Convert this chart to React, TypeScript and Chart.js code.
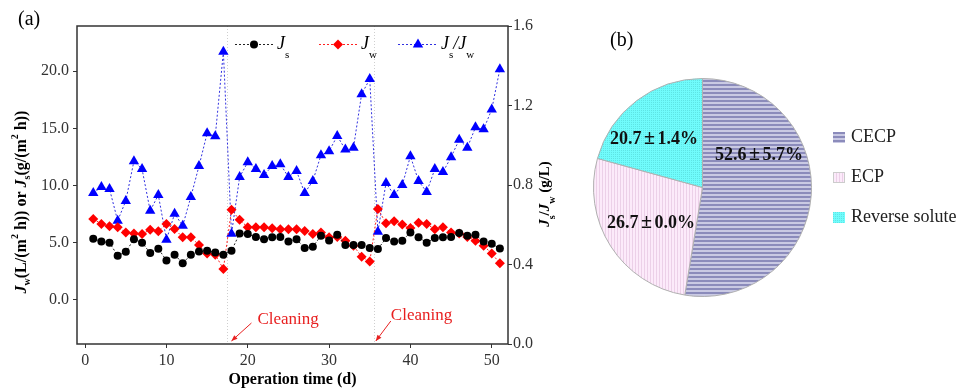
import React, { useEffect, useRef } from 'react';
import { Chart, registerables } from 'chart.js';
Chart.register(...registerables);

// ---------- data ----------
const days = [1,2,3,4,5,6,7,8,9,10,11,12,13,14,15,16,17,18,19,20,21,22,23,24,25,26,27,28,29,30,31,32,33,34,35,36,37,38,39,40,41,42,43,44,45,46,47,48,49,50,51];
const jsFlux = [5.35,5.1,5.0,3.86,4.2,5.3,5.0,4.1,4.47,3.45,3.95,3.2,3.95,4.24,4.3,4.15,3.95,4.3,5.8,5.75,5.5,5.3,5.47,5.5,5.1,5.3,4.53,4.65,5.6,5.2,5.7,4.8,4.8,4.8,4.53,4.44,5.4,5.1,5.17,5.9,5.47,5.0,5.4,5.47,5.5,5.85,5.6,5.7,5.1,4.9,4.5];
const jwFlux = [7.08,6.64,6.43,6.35,5.9,5.8,5.75,6.14,6.0,6.64,6.2,5.47,5.47,4.8,4.06,3.95,2.7,7.87,7.0,6.35,6.35,6.35,6.26,6.17,6.17,6.17,6.03,5.75,5.9,5.47,5.5,5.17,4.74,3.77,3.36,7.95,6.7,6.87,6.58,6.29,6.75,6.64,6.17,6.35,5.9,5.8,5.5,5.17,4.74,4.06,3.2];
const ratio = [0.76,0.79,0.78,0.62,0.72,0.92,0.88,0.67,0.75,0.525,0.655,0.595,0.74,0.895,1.06,1.045,1.47,0.555,0.84,0.915,0.88,0.85,0.895,0.905,0.84,0.87,0.76,0.82,0.95,0.97,1.047,0.978,0.988,1.257,1.333,0.565,0.81,0.75,0.8,0.945,0.82,0.765,0.88,0.865,0.94,1.028,0.988,1.09,1.08,1.18,1.383];
const leftTicks = [0, 5, 10, 15, 20];
const rightTicks = [0, 0.4, 0.8, 1.2, 1.6];
const xTicks = [0, 10, 20, 30, 40, 50];
const cleaningDays = [17.5, 35.5];
const cleaningLabel = 'Cleaning';

const pieLabels = ['CECP', 'ECP', 'Reverse solute'];
const pieValues = [52.6, 26.7, 20.7];
const pieTexts = ['52.6±5.7%', '26.7±0.0%', '20.7±1.4%'];

// ---------- helpers ----------
const SERIF = '"Liberation Serif", "Times New Roman", serif';
type Seg = { t: string; f: string; dy?: number };

function drawRich(ctx: CanvasRenderingContext2D, segs: Seg[], x: number, y: number, align: 'center' | 'left') {
  let total = 0;
  for (const s of segs) { ctx.font = s.f; total += ctx.measureText(s.t).width; }
  let cx = align === 'center' ? x - total / 2 : x;
  ctx.textAlign = 'left';
  ctx.textBaseline = 'middle';
  for (const s of segs) {
    ctx.font = s.f;
    ctx.fillText(s.t, cx, y + (s.dy || 0));
    cx += ctx.measureText(s.t).width;
  }
}

// draws "a±b" with a wide (full-width style) ± sign, centered on x
function drawPlusMinus(ctx: CanvasRenderingContext2D, text: string, x: number, y: number) {
  const [a, b] = text.split('±');
  ctx.font = `bold 18px ${SERIF}`;
  const wa = ctx.measureText(a).width;
  const wb = ctx.measureText(b).width;
  const slot = 16;
  const left = x - (wa + slot + wb) / 2;
  ctx.textBaseline = 'middle';
  ctx.textAlign = 'left';
  ctx.fillText(a, left, y);
  ctx.textAlign = 'center';
  ctx.font = `bold 20px ${SERIF}`;
  ctx.fillText('±', left + wa + slot / 2, y);
  ctx.font = `bold 18px ${SERIF}`;
  ctx.textAlign = 'left';
  ctx.fillText(b, left + wa + slot, y);
}

function makePattern(kind: 'h' | 'v' | 'd'): CanvasPattern | string {
  const c = document.createElement('canvas');
  const g = c.getContext('2d');
  if (!g) return '#aaa';
  if (kind === 'h') {
    c.width = 4; c.height = 4;
    g.fillStyle = '#c9c9e3'; g.fillRect(0, 0, 4, 4);
    g.fillStyle = '#8b8bbb'; g.fillRect(0, 0, 4, 2);
  } else if (kind === 'v') {
    c.width = 3; c.height = 3;
    g.fillStyle = '#fceafa'; g.fillRect(0, 0, 3, 3);
    g.fillStyle = '#ecd0e8'; g.fillRect(0, 0, 1, 3);
  } else {
    c.width = 2; c.height = 2;
    g.fillStyle = '#70fcfc'; g.fillRect(0, 0, 2, 2);
    g.fillStyle = '#5ee4e4'; g.fillRect(0, 0, 1, 1);
  }
  return g.createPattern(c, 'repeat') || '#aaa';
}

function drawMarker(ctx: CanvasRenderingContext2D, kind: string, x: number, y: number, r: number, color: string) {
  ctx.fillStyle = color;
  ctx.beginPath();
  if (kind === 'circle') {
    ctx.arc(x, y, r, 0, Math.PI * 2);
  } else if (kind === 'rectRot') {
    ctx.moveTo(x, y - r); ctx.lineTo(x + r, y); ctx.lineTo(x, y + r); ctx.lineTo(x - r, y); ctx.closePath();
  } else {
    let a = 0;
    ctx.moveTo(x + Math.sin(a) * r, y - Math.cos(a) * r);
    a += (2 * Math.PI) / 3;
    ctx.lineTo(x + Math.sin(a) * r, y - Math.cos(a) * r);
    a += (2 * Math.PI) / 3;
    ctx.lineTo(x + Math.sin(a) * r, y - Math.cos(a) * r);
    ctx.closePath();
  }
  ctx.fill();
}

const COLORS = { js: '#000000', jw: '#ff0000', ratio: '#0000ff' };

export default function App() {
  const lineRef = useRef<HTMLCanvasElement>(null);
  const pieRef = useRef<HTMLCanvasElement>(null);

  useEffect(() => {
    const pts = (arr: number[]) => days.map((d, i) => ({ x: d, y: arr[i] }));

    const lineDeco = {
      id: 'lineDeco',
      beforeDatasetsDraw(chart: any) {
        const { ctx, chartArea: a, scales } = chart;
        ctx.save();
        ctx.strokeStyle = '#cfcfcf';
        ctx.lineWidth = 1;
        ctx.setLineDash([1, 2]);
        for (const d of cleaningDays) {
          const x = Math.round(scales.x.getPixelForValue(d)) + 0.5;
          ctx.beginPath(); ctx.moveTo(x, a.top); ctx.lineTo(x, a.bottom); ctx.stroke();
        }
        ctx.restore();
      },
      afterDraw(chart: any) {
        const { ctx, chartArea: a, scales } = chart;
        ctx.save();
        // frame
        ctx.strokeStyle = '#333';
        ctx.lineWidth = 1.5;
        ctx.strokeRect(a.left, a.top, a.right - a.left, a.bottom - a.top);

        ctx.fillStyle = '#000';
        // (a)
        ctx.font = `20px ${SERIF}`;
        ctx.textAlign = 'left'; ctx.textBaseline = 'middle';
        ctx.fillText('(a)', 18, 20);

        // left axis title
        const B = `bold 16px ${SERIF}`, BI = `italic bold 16px ${SERIF}`, SB = `bold 10px ${SERIF}`;
        ctx.save();
        ctx.translate(21.5, (a.top + a.bottom) / 2 + 17);
        ctx.rotate(-Math.PI / 2);
        drawRich(ctx, [
          { t: 'J', f: BI }, { t: 'w', f: SB, dy: 6 }, { t: '(L/(m', f: B }, { t: '2', f: SB, dy: -6 },
          { t: ' h)) or ', f: B }, { t: 'J', f: BI }, { t: 's', f: SB, dy: 6 }, { t: '(g/(m', f: B },
          { t: '2', f: SB, dy: -6 }, { t: ' h))', f: B },
        ], 0, 0, 'center');
        ctx.restore();

        // right axis title
        const B2 = `bold 15px ${SERIF}`, BI2 = `italic bold 15px ${SERIF}`, SB2 = `bold 10px ${SERIF}`;
        ctx.save();
        ctx.translate(545, (a.top + a.bottom) / 2 + 9);
        ctx.rotate(-Math.PI / 2);
        drawRich(ctx, [
          { t: 'J', f: BI2 }, { t: 's', f: SB2, dy: 7 }, { t: '/', f: B2 }, { t: 'J', f: BI2 },
          { t: 'w', f: SB2, dy: 7 }, { t: ' (g/L)', f: B2 },
        ], 0, 0, 'center');
        ctx.restore();

        // bottom title
        ctx.font = `bold 16px ${SERIF}`;
        ctx.textAlign = 'center'; ctx.textBaseline = 'middle';
        ctx.fillText('Operation time (d)', (a.left + a.right) / 2, 380);

        // legend
        const legendItems = [
          { x0: 235, x1: 273, m: 254, tx: 277, kind: 'circle', r: 4, color: COLORS.js, line: '#222',
            segs: [{ t: 'J', f: `italic 18px ${SERIF}` }, { t: 's', f: `11px ${SERIF}`, dy: 11 }] },
          { x0: 319, x1: 357, m: 338, tx: 361, kind: 'rectRot', r: 5, color: COLORS.jw, line: '#ff2020',
            segs: [{ t: 'J', f: `italic 18px ${SERIF}` }, { t: 'w', f: `11px ${SERIF}`, dy: 11 }] },
          { x0: 398, x1: 437, m: 418, tx: 441, kind: 'triangle', r: 6, color: COLORS.ratio, line: '#3030e0',
            segs: [{ t: 'J', f: `italic 18px ${SERIF}` }, { t: 's', f: `11px ${SERIF}`, dy: 11 },
              { t: '/', f: `italic 18px ${SERIF}` }, { t: 'J', f: `italic 18px ${SERIF}` },
              { t: 'w', f: `11px ${SERIF}`, dy: 11 }] },
        ];
        const ly = 44.5;
        for (const it of legendItems) {
          ctx.save();
          ctx.strokeStyle = it.line; ctx.lineWidth = 1; ctx.setLineDash([2, 2]);
          ctx.beginPath(); ctx.moveTo(it.x0, ly); ctx.lineTo(it.x1, ly); ctx.stroke();
          ctx.restore();
          drawMarker(ctx, it.kind, it.m, ly, it.r, it.color);
          ctx.fillStyle = '#000';
          drawRich(ctx, it.segs, it.tx, ly, 'left');
        }

        // cleaning annotations
        const ann = [{ day: cleaningDays[0], textDx: 30, textY: 320, tipDx: 4, tailDx: 20, tailDy: 18 },
                     { day: cleaningDays[1], textDx: 17, textY: 316, tipDx: 2, tailDx: 15, tailDy: 20 }];
        for (const an of ann) {
          const xd = scales.x.getPixelForValue(an.day);
          const tipX = xd + an.tipDx, tipY = a.bottom - 3;
          const tailX = tipX + an.tailDx, tailY = tipY - an.tailDy;
          ctx.strokeStyle = '#e82020'; ctx.fillStyle = '#e82020'; ctx.lineWidth = 1;
          ctx.beginPath(); ctx.moveTo(tailX, tailY); ctx.lineTo(tipX, tipY); ctx.stroke();
          const ang = Math.atan2(tipY - tailY, tipX - tailX);
          const hl = 6, hw = 2.5;
          ctx.beginPath();
          ctx.moveTo(tipX, tipY);
          ctx.lineTo(tipX - hl * Math.cos(ang) + hw * Math.sin(ang), tipY - hl * Math.sin(ang) - hw * Math.cos(ang));
          ctx.lineTo(tipX - hl * Math.cos(ang) - hw * Math.sin(ang), tipY - hl * Math.sin(ang) + hw * Math.cos(ang));
          ctx.closePath(); ctx.fill();
          ctx.font = `17px ${SERIF}`;
          ctx.textAlign = 'left'; ctx.textBaseline = 'middle';
          ctx.fillText(cleaningLabel, xd + an.textDx, an.textY);
        }
        ctx.restore();
      },
    };

    const tickFont = { family: SERIF, size: 16 };
    const lc = new Chart(lineRef.current as HTMLCanvasElement, {
      type: 'line',
      data: {
        datasets: [
          { label: 'Js', data: pts(jsFlux), yAxisID: 'y', borderColor: '#222', backgroundColor: COLORS.js,
            borderWidth: 1, borderDash: [2, 2], pointStyle: 'circle', pointRadius: 4, pointBorderWidth: 0,
            pointBackgroundColor: COLORS.js, tension: 0 },
          { label: 'Jw', data: pts(jwFlux), yAxisID: 'y', borderColor: '#ff2020', backgroundColor: COLORS.jw,
            borderWidth: 1, borderDash: [2, 2], pointStyle: 'rectRot', pointRadius: 5, pointBorderWidth: 0,
            pointBackgroundColor: COLORS.jw, tension: 0 },
          { label: 'Js/Jw', data: pts(ratio), yAxisID: 'y1', borderColor: '#3030e0', backgroundColor: COLORS.ratio,
            borderWidth: 1, borderDash: [2, 2], pointStyle: 'triangle', pointRadius: 6, pointBorderWidth: 0,
            pointBackgroundColor: COLORS.ratio, tension: 0 },
        ],
      } as any,
      options: {
        animation: false,
        responsive: false,
        devicePixelRatio: 1,
        layout: { padding: { top: 26, left: 0, right: 0, bottom: 0 } },
        plugins: { legend: { display: false }, tooltip: { enabled: false } },
        scales: {
          x: {
            type: 'linear', min: -1, max: 52,
            afterBuildTicks: (ax: any) => { ax.ticks = xTicks.map((v) => ({ value: v })); },
            afterFit: (ax: any) => { ax.height = 45; },
            grid: { drawOnChartArea: false, drawTicks: true, tickLength: 4, color: '#333' },
            border: { display: false },
            ticks: { font: tickFont, color: '#333', padding: 3, maxRotation: 0, callback: (v: any) => String(v) },
          },
          y: {
            type: 'linear', position: 'left', min: -3.86, max: 23.95,
            afterBuildTicks: (ax: any) => { ax.ticks = leftTicks.map((v) => ({ value: v })); },
            afterFit: (ax: any) => { ax.width = 77; },
            grid: { drawOnChartArea: false, drawTicks: true, tickLength: 4, color: '#333' },
            border: { display: false },
            ticks: { font: tickFont, color: '#333', padding: 4, callback: (v: any) => Number(v).toFixed(1) },
          },
          y1: {
            type: 'linear', position: 'right', min: 0, max: 1.6,
            afterBuildTicks: (ax: any) => { ax.ticks = rightTicks.map((v) => ({ value: v })); },
            afterFit: (ax: any) => { ax.width = 67; },
            grid: { drawOnChartArea: false, drawTicks: true, tickLength: 4, color: '#333' },
            border: { display: false },
            ticks: { font: tickFont, color: '#333', padding: 1, callback: (v: any) => Number(v).toFixed(1) },
          },
        },
      } as any,
      plugins: [lineDeco],
    });

    const patterns = [makePattern('h'), makePattern('v'), makePattern('d')];
    const pieDeco = {
      id: 'pieDeco',
      afterDraw(chart: any) {
        const { ctx } = chart;
        ctx.save();
        ctx.fillStyle = '#000';
        ctx.font = `20px ${SERIF}`;
        ctx.textAlign = 'left'; ctx.textBaseline = 'middle';
        ctx.fillText('(b)', 35, 41);

        // slice texts
        const pos = [[184, 155], [76, 223], [79, 139]];
        ctx.fillStyle = '#111';
        pieTexts.forEach((t, i) => drawPlusMinus(ctx, t, pos[i][0], pos[i][1]));

        // legend
        const ys = [137, 177, 217];
        pieLabels.forEach((lab, i) => {
          ctx.fillStyle = patterns[i];
          ctx.fillRect(258, ys[i] - 5, 12, 11);
          if (i === 1) { ctx.strokeStyle = '#ccc'; ctx.lineWidth = 1; ctx.strokeRect(258.5, ys[i] - 4.5, 11, 10); }
          ctx.fillStyle = '#222';
          ctx.font = `18px ${SERIF}`;
          ctx.textAlign = 'left';
          ctx.textBaseline = 'middle';
          ctx.fillText(lab, 276, ys[i]);
        });
        ctx.restore();
      },
    };

    const pc = new Chart(pieRef.current as HTMLCanvasElement, {
      type: 'pie',
      data: {
        labels: pieLabels,
        datasets: [{ data: pieValues, backgroundColor: patterns as any, borderColor: '#b0b0b0', borderWidth: 1 }],
      },
      options: {
        animation: false,
        responsive: false,
        devicePixelRatio: 1,
        layout: { padding: { left: 18, top: 78, right: 157, bottom: 92 } },
        plugins: { legend: { display: false }, tooltip: { enabled: false } },
      } as any,
      plugins: [pieDeco],
    });

    return () => { lc.destroy(); pc.destroy(); };
  }, []);

  return (
    <div style={{ position: 'absolute', left: 0, top: 0, width: 969, height: 389, background: '#fff' }}>
      <canvas ref={lineRef} width={575} height={389}
        style={{ position: 'absolute', left: 0, top: 0, width: 575, height: 389 }} />
      <canvas ref={pieRef} width={394} height={389}
        style={{ position: 'absolute', left: 575, top: 0, width: 394, height: 389 }} />
    </div>
  );
}
